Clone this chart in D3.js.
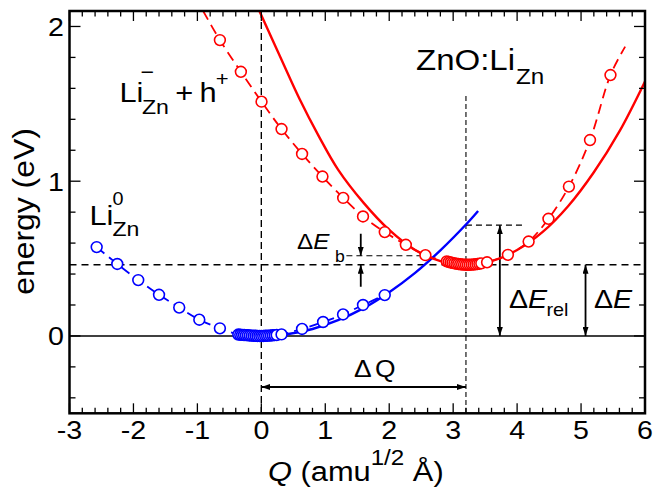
<!DOCTYPE html>
<html><head><meta charset="utf-8">
<script src="https://cdn.jsdelivr.net/npm/d3@7"></script>
<style>html,body{margin:0;padding:0;background:#fff;}svg{display:block;}</style>
</head><body>
<svg id="chart" width="665" height="489"></svg>
<script>
// ---------- data ----------
// Li_Zn^0 (blue) computed points
const blueQ = [-2.575,-2.253,-1.925,-1.60,-1.284,-0.97,-0.648,
  -0.36,-0.33,-0.30,-0.27,-0.24,-0.21,-0.18,-0.15,-0.12,-0.09,-0.06,-0.03,0,0.03,0.06,0.09,0.12,0.15,0.18,0.21,0.24,
  0.316,0.637,0.966,1.278,1.59,1.93];
const blueE = [0.574,0.465,0.361,0.266,0.183,0.105,0.049,
  0.009,0.008,0.007,0.006,0.005,0.004,0.003,0.002,0.001,0.001,0,0,0,0,0.001,0.001,0.002,0.003,0.004,0.005,0.006,
  0.010,0.045,0.090,0.139,0.200,0.264];
// Li_Zn^- + h^+ (red) computed points
const redQ = [-0.648,-0.32,0.003,0.316,0.637,0.956,1.28,1.59,1.93,2.26,2.566,
  2.90,2.93,2.96,2.99,3.02,3.05,3.08,3.11,3.14,3.17,3.20,3.23,3.26,3.29,3.32,3.35,3.38,3.41,3.44,
  3.53,3.856,4.18,4.49,4.81,5.14,5.46];
const redE = [1.912,1.707,1.514,1.337,1.176,1.030,0.892,0.772,0.671,0.589,0.522,
  0.482,0.478,0.475,0.472,0.469,0.467,0.465,0.463,0.462,0.461,0.460,0.460,0.460,0.461,0.462,0.463,0.465,0.467,0.469,
  0.476,0.524,0.610,0.757,0.965,1.266,1.686];
// ends of the red dashed guide line
const redDashEndQ = [-0.91, 5.69];
const redDashEndE = [2.10, 1.87];
// harmonic fits (solid curves)
const blueFitQ = [0,0.4,0.8,1.2,1.6,2.0,2.4,2.8,3.2,3.39];
const blueFitE = [0,0.011,0.045,0.102,0.180,0.283,0.406,0.553,0.720,0.808];
const redFitQ = [-0.03,0.3,0.6,0.9,1.2,1.6,2.0,2.4,2.8,3.2,3.6,4.0,4.4,4.8,5.2,5.6,6.0];
const redFitE = [2.10,1.80,1.53,1.29,1.075,0.86,0.685,0.557,0.484,0.460,0.483,0.555,0.672,0.840,1.058,1.322,1.645];
// annotation values
const dQ = 3.2, dE = 0.46, dErel = 0.716, dEbTop = 0.518;
// ticks
const xTickValues = [-3,-2,-1,0,1,2,3,4,5,6];
const xTickLabels = ["-3","-2","-1","0","1","2","3","4","5","6"];
const yTickValues = [0,1,2];
const yTickLabels = ["0","1","2"];

// ---------- layout ----------
const FONT = "'Liberation Sans', Arial, Helvetica, sans-serif";
const SX = 1.1;
const svg = d3.select("#chart");
const x = d3.scaleLinear().domain([-3,6]).range([69.5,645]);
const y = d3.scaleLinear().domain([-0.5,2.1]).range([413.3,11]);
const [X0,X1] = x.range(); const [Y0,Y1] = y.range();
const RED = "#ff0000", BLUE = "#0000ff";

const defs = svg.append("defs");
defs.append("marker").attr("id","ah").attr("viewBox","0 0 9 6")
  .attr("refX",9).attr("refY",3).attr("markerWidth",9).attr("markerHeight",6)
  .attr("markerUnits","userSpaceOnUse").attr("orient","auto-start-reverse")
  .append("path").attr("d","M0,0L9,3L0,6Z").attr("fill","#000");
defs.append("clipPath").attr("id","clip").append("rect")
  .attr("x",X0).attr("y",Y1).attr("width",X1-X0).attr("height",Y0-Y1);

const plot = svg.append("g").attr("clip-path","url(#clip)");

// reference lines
plot.append("line").attr("x1",X0).attr("x2",X1).attr("y1",y(0)).attr("y2",y(0))
  .attr("stroke","#000").attr("stroke-width",1.5);
plot.append("line").attr("x1",X0).attr("x2",X1).attr("y1",y(dE)).attr("y2",y(dE))
  .attr("stroke","#000").attr("stroke-width",1.4).attr("stroke-dasharray","7,5");
plot.append("line").attr("x1",x(0)).attr("x2",x(0)).attr("y1",Y1).attr("y2",Y0)
  .attr("stroke","#000").attr("stroke-width",1.4).attr("stroke-dasharray","7,4");
plot.append("line").attr("x1",x(dQ)).attr("x2",x(dQ)).attr("y1",y(1.55)).attr("y2",Y0)
  .attr("stroke","#000").attr("stroke-width",1.1).attr("stroke-dasharray","5,3");
plot.append("line").attr("x1",x(dQ)).attr("x2",x(4.09)).attr("y1",y(dErel)).attr("y2",y(dErel))
  .attr("stroke","#000").attr("stroke-width",1.1).attr("stroke-dasharray","6,4");
plot.append("line").attr("x1",x(1.33)).attr("x2",x(2.55)).attr("y1",y(dEbTop)).attr("y2",y(dEbTop))
  .attr("stroke","#000").attr("stroke-width",1.1).attr("stroke-dasharray","6,4");

// arrows
function arrow(xa,ya,xb,yb,both){
  const l = plot.append("line").attr("x1",xa).attr("y1",ya).attr("x2",xb).attr("y2",yb)
    .attr("stroke","#000").attr("stroke-width",1.8).attr("marker-end","url(#ah)");
  if(both) l.attr("marker-start","url(#ah)");
}
arrow(x(1.555), y(0.66), x(1.555), y(dEbTop), false);
arrow(x(1.555), y(0.318), x(1.555), y(dE), false);
arrow(x(3.73), y(0), x(3.73), y(dErel), true);
arrow(x(5.07), y(0), x(5.07), y(dE), true);
arrow(x(0), y(-0.33), x(dQ), y(-0.33), true);

// dashed guide lines through the points
const line = d3.line().x(d=>x(d[0])).y(d=>y(d[1])).curve(d3.curveCatmullRom.alpha(0.5));
const bluePts = blueQ.map((q,i)=>[q,blueE[i]]);
const redPts = redQ.map((q,i)=>[q,redE[i]]);
const redDash = [[redDashEndQ[0],redDashEndE[0]], ...redPts, [redDashEndQ[1],redDashEndE[1]]];
plot.append("path").attr("d",line(bluePts)).attr("fill","none").attr("stroke",BLUE)
  .attr("stroke-width",1.8).attr("stroke-dasharray","10,6");
plot.append("path").attr("d",line(redDash)).attr("fill","none").attr("stroke",RED)
  .attr("stroke-width",1.8).attr("stroke-dasharray","10,6");

// solid fits
plot.append("path").attr("d",line(blueFitQ.map((q,i)=>[q,blueFitE[i]]))).attr("fill","none")
  .attr("stroke",BLUE).attr("stroke-width",2.4);
plot.append("path").attr("d",line(redFitQ.map((q,i)=>[q,redFitE[i]]))).attr("fill","none")
  .attr("stroke",RED).attr("stroke-width",2.4);

// points
plot.append("g").selectAll("circle").data(bluePts).join("circle")
  .attr("cx",d=>x(d[0])).attr("cy",d=>y(d[1])).attr("r",5.4)
  .attr("fill","#fff").attr("stroke",BLUE).attr("stroke-width",1.6);
plot.append("g").selectAll("circle").data(redPts).join("circle")
  .attr("cx",d=>x(d[0])).attr("cy",d=>y(d[1])).attr("r",5.4)
  .attr("fill","#fff").attr("stroke",RED).attr("stroke-width",1.6);

// ticks (inward, all sides)
const ax = svg.append("g").attr("stroke","#000").attr("stroke-width",1.3);
const xMinor = d3.range(-15,31).map(i=>i/5);
const yMinor = d3.range(-2,11).map(i=>i/5);
xMinor.forEach(v=>{
  const major = Math.abs(v-Math.round(v))<1e-6;
  const L = major?10:5.5;
  ax.append("line").attr("x1",x(v)).attr("x2",x(v)).attr("y1",Y0).attr("y2",Y0-L);
  ax.append("line").attr("x1",x(v)).attr("x2",x(v)).attr("y1",Y1).attr("y2",Y1+L);
});
yMinor.forEach(v=>{
  const major = Math.abs(v-Math.round(v))<1e-6;
  const L = major?11:6;
  ax.append("line").attr("y1",y(v)).attr("y2",y(v)).attr("x1",X0).attr("x2",X0+L);
  ax.append("line").attr("y1",y(v)).attr("y2",y(v)).attr("x1",X1).attr("x2",X1-L);
});
svg.append("rect").attr("x",X0).attr("y",Y1).attr("width",X1-X0).attr("height",Y0-Y1)
  .attr("fill","none").attr("stroke","#000").attr("stroke-width",2.5);

// text helper
function T(xp, yp, size, anchor, rot){
  return svg.append("text")
    .attr("transform",`translate(${xp},${yp})${rot?` rotate(${rot})`:""} scale(${SX},1)`)
    .attr("font-family",FONT).attr("font-size",size).attr("fill","#000")
    .attr("text-anchor",anchor||"start");
}
// tick labels
xTickValues.forEach((v,i)=>T(x(v),439,26,"middle").text(xTickLabels[i]));
yTickValues.forEach((v,i)=>T(64,y(v)+9.3,26,"end").text(yTickLabels[i]));

// axis titles
T(34,211.5,29,"middle",-90).text("energy (eV)");
{
  const t = T(268,481,28,"start");
  t.append("tspan").attr("font-style","italic").text("Q");
  t.append("tspan").text(" (amu");
  t.append("tspan").attr("dy",-16).attr("font-size",22).text("1/2");
  t.append("tspan").attr("dy",16).text(" Å)");
}

// state labels
T(119.5,101.7,28).text("Li");
T(142,114,21).text("Zn");
T(140.5,78.5,21).text("\u2212");
T(184.3,101.7,28,"middle").text("+");
T(199.6,101.7,28).text("h");
T(222.2,86.3,20,"middle").text("+");

T(89.5,225,28).text("Li");
T(112.5,205,18).text("0");
T(112.5,235.5,21).text("Zn");

T(416,70,30).text("ZnO:Li");
T(516,84.3,22).text("Zn");

// energy / Q annotations
{
  const t = T(297,249.3,22); t.append("tspan").text("\u0394"); t.append("tspan").attr("font-style","italic").text("E");
  T(335,261.7,16).text("b");
  const r = T(509,308.3,26); r.append("tspan").text("\u0394"); r.append("tspan").attr("font-style","italic").text("E");
  T(546.5,315.5,18).text("rel");
  const e = T(594,308.3,26); e.append("tspan").text("\u0394"); e.append("tspan").attr("font-style","italic").text("E");
  const q = T(354,376.7,24); q.append("tspan").text("\u0394"); q.append("tspan").attr("dx",3).text("Q");
}
</script>
</body></html>
